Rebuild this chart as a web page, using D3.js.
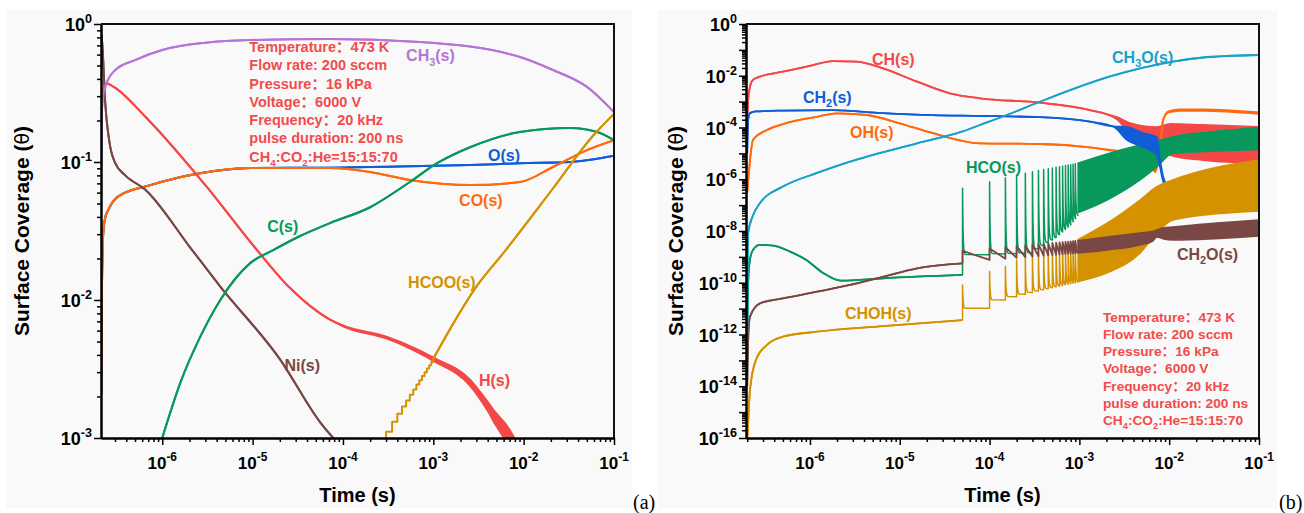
<!DOCTYPE html>
<html>
<head>
<meta charset="utf-8">
<script src="https://cdn.jsdelivr.net/npm/d3@7"></script>
<style>
  body { margin: 0; background: #fff; }
  svg { display: block; font-family: "Liberation Sans", Arial, sans-serif; }
</style>
</head>
<body>
<svg id="fig" width="1304" height="513"></svg>
<script>
// ---------- data (time in s, coverage) ----------
// pulses every 50 us that show up as single spikes / steps
const pulseTimes = [5e-5, 1e-4, 1.5e-4, 2e-4, 2.5e-4, 3e-4, 3.5e-4, 4e-4, 4.5e-4,
  5e-4, 5.5e-4, 6e-4, 6.5e-4, 7e-4, 7.5e-4, 8e-4, 8.5e-4, 9e-4];
const bandStart = 9.5e-4;

// panel (a)   rows are [t, value] or [t, low, high] where the trace is a band
const aNi = [[2e-7, 0.95], [2.15e-7, 0.77], [2.34e-7, 0.268], [2.66e-7, 0.128], [3.02e-7, 0.098],
  [3.9e-7, 0.080], [6.5e-7, 0.063], [2.04e-6, 0.024], [4.39e-6, 0.0125], [2.02e-5, 3.7e-3],
  [5.6e-5, 1.3e-3], [7.8e-5, 1e-3], [9e-5, 0.9e-3]];
const aH = [[2e-7, 0.2], [2.2e-7, 0.33], [2.44e-7, 0.37], [2.9e-7, 0.35], [6.5e-7, 0.213],
  [3e-6, 0.068], [1.12e-5, 0.023], [2.6e-5, 0.0122], [7.2e-5, 7.2e-3], [1.03e-4, 6.4e-3, 6.5e-3],
  [3.08e-4, 5.25e-3, 5.4e-3], [7.1e-4, 4.1e-3, 4.3e-3], [1.02e-3, 3.6e-3, 3.8e-3],
  [2.55e-3, 2.4e-3, 2.65e-3], [3.94e-3, 1.6e-3, 1.85e-3], [5e-3, 1.22e-3, 1.5e-3],
  [6.2e-3, 0.98e-3, 1.28e-3], [8.1e-3, 0.72e-3, 0.97e-3], [9e-3, 0.6e-3, 0.85e-3]];
const aCH3 = [[2e-7, 3e-3], [2.08e-7, 0.05], [2.13e-7, 0.2], [2.2e-7, 0.29], [2.34e-7, 0.351],
  [3.02e-7, 0.464], [5e-7, 0.548], [1e-6, 0.648], [3e-6, 0.732], [9.4e-6, 0.766], [7.2e-5, 0.778],
  [7.1e-4, 0.74], [9.1e-3, 0.577], [0.0211, 0.464], [0.0502, 0.35], [0.1, 0.23]];
const aCO = [[2e-7, 1.5e-3], [2.11e-7, 2.1e-3], [2.15e-7, 0.012], [2.22e-7, 0.03], [2.35e-7, 0.04],
  [2.53e-7, 0.045], [3.18e-7, 0.0557], [7.4e-7, 0.068], [2.63e-6, 0.083], [9.4e-6, 0.0905],
  [7.2e-5, 0.0905], [2e-4, 0.0847], [5.5e-4, 0.074], [2.55e-3, 0.068], [9.1e-3, 0.0716],
  [0.0211, 0.092], [0.0502, 0.122], [0.1, 0.144]];
const aO = [[2e-7, 1.5e-3], [2.11e-7, 2.1e-3], [2.15e-7, 0.012], [2.22e-7, 0.03], [2.35e-7, 0.04],
  [2.53e-7, 0.045], [3.18e-7, 0.0557], [7.4e-7, 0.068], [2.63e-6, 0.083], [9.4e-6, 0.0905],
  [7.2e-5, 0.091], [2e-4, 0.092], [5.5e-4, 0.093], [2.55e-3, 0.095], [9.1e-3, 0.098],
  [0.0326, 0.1], [0.1, 0.111]];
const aC = [[9e-7, 8e-4], [1e-6, 1e-3], [1.58e-6, 2.5e-3], [2.63e-6, 5.4e-3], [4.39e-6, 0.01],
  [9.4e-6, 0.0185], [1.69e-5, 0.023], [3.36e-5, 0.0291], [7.2e-5, 0.0361], [2e-4, 0.047],
  [5.5e-4, 0.0716], [1.1e-3, 0.098], [2.55e-3, 0.128], [9.1e-3, 0.165], [0.0326, 0.176],
  [0.065, 0.165], [0.1, 0.144]];
const aHCOOSteps = [[2.5e-4, 8e-4], [3e-4, 1.11e-3], [3.5e-4, 1.31e-3], [4e-4, 1.5e-3],
  [4.5e-4, 1.69e-3], [5e-4, 1.87e-3], [5.5e-4, 2.06e-3], [6e-4, 2.25e-3], [6.5e-4, 2.44e-3],
  [7e-4, 2.62e-3], [7.5e-4, 2.81e-3], [8e-4, 3.0e-3], [8.5e-4, 3.19e-3], [9e-4, 3.37e-3],
  [9.5e-4, 3.56e-3], [1e-3, 3.75e-3]];
const aHCOO = [[1e-3, 3.75e-3], [3e-3, 0.0125], [6e-3, 0.022], [0.021, 0.064], [0.0586, 0.155],
  [0.1, 0.223]];

// panel (b)
const bCH = [[2e-7, 1e-4], [2.05e-7, 1.2e-3], [2.15e-7, 3.8e-3], [2.32e-7, 6.9e-3], [2.77e-7, 9.2e-3],
  [5e-7, 0.0143], [1e-6, 0.024], [1.8e-6, 0.037], [3.33e-6, 0.035], [6.5e-6, 0.0194],
  [1.56e-5, 5.9e-3], [3.6e-5, 2.1e-3], [7.8e-5, 1.34e-3], [3.64e-4, 9.1e-4], [1.31e-3, 4.7e-4],
  [2.62e-3, 2.1e-4, 2.5e-4], [3.66e-3, 6.1e-5, 1.49e-4], [7.3e-3, 3.3e-5, 1.04e-4],
  [0.0102, 8.6e-6, 1.37e-4], [0.0238, 5.5e-6, 1.25e-4], [0.1, 4.2e-6, 1.04e-4]];
const bCH2 = [[2e-7, 1e-5], [2.05e-7, 2e-4], [2.15e-7, 3.6e-4], [2.5e-7, 4.2e-4], [5e-7, 4.5e-4],
  [1.8e-6, 4.7e-4], [6.5e-6, 3.6e-4], [2.34e-5, 3.0e-4], [7.8e-5, 2.8e-4], [3.64e-4, 2.5e-4],
  [1.31e-3, 1.68e-4], [2.4e-3, 1.08e-4, 1.1e-4], [3.4e-3, 3.3e-5, 1.04e-4], [5.1e-3, 1.76e-5, 6.1e-5],
  [7.3e-3, 8.6e-6, 4.3e-5], [7.9e-3, 3e-6, 6e-6], [8.6e-3, 8e-7, 1.2e-6], [9.8e-3, 4.2e-7, 5.5e-7],
  [0.0132, 4.6e-7], [0.1, 4.6e-7]];
const bOH = [[2e-7, 3e-7], [2.15e-7, 5.5e-6], [2.32e-7, 3.3e-5], [3.32e-7, 8e-5], [5e-7, 1.36e-4],
  [1.2e-6, 2.6e-4], [2e-6, 3.54e-4], [4.3e-6, 3.04e-4], [1e-5, 1.45e-4], [2.34e-5, 6e-5],
  [7.8e-5, 2.45e-5], [3.64e-4, 2.3e-5], [1.31e-3, 1.72e-5], [3.06e-3, 1.16e-5],
  [5.1e-3, 7.9e-6, 1.35e-5], [6.4e-3, 3.25e-6, 1.13e-5], [6.95e-3, 1.9e-6, 7e-6], [7.5e-3, 4e-6],
  [7.9e-3, 1.35e-5], [8.55e-3, 1.95e-4], [9.8e-3, 3.8e-4, 4.2e-4], [0.0132, 4.4e-4, 5.0e-4],
  [0.0238, 4.4e-4, 5.0e-4], [0.1, 3.35e-4, 3.85e-4]];
const bCH3O = [[2e-7, 1e-12], [2.02e-7, 3e-10], [2.05e-7, 8.4e-9], [2.32e-7, 4e-8], [2.77e-7, 1.18e-7],
  [5e-7, 5.2e-7], [1.2e-6, 1.75e-6], [2.79e-6, 4.8e-6], [1.56e-5, 2.45e-5], [4.9e-5, 6.9e-5],
  [7.8e-5, 1.25e-4], [1.56e-4, 3.04e-4], [3.64e-4, 9.9e-4], [2.3e-3, 9.8e-3], [0.011, 0.0349],
  [0.0238, 0.0507], [0.1, 0.0634]];
// HCO(s): smooth part, spike tops, level after each spike, dense band
const bHCO = [[2e-7, 1e-12], [2.05e-7, 1e-10], [2.15e-7, 8e-10], [2.32e-7, 1.85e-9], [2.77e-7, 2.9e-9],
  [3.9e-7, 2.7e-9], [6e-7, 1.6e-9], [9.1e-7, 7.6e-10], [1.4e-6, 2.4e-10], [2.2e-6, 1.2e-10],
  [6.5e-6, 1.49e-10], [5e-5, 2e-10]];
const bHCOPeak = [[5e-5, 4.5e-7], [1e-4, 8e-7], [2e-4, 1.46e-6], [3e-4, 1.96e-6], [9.5e-4, 4.1e-6]];
const bHCOBase = [[5e-5, 1.2e-9], [2.5e-4, 1.4e-9], [5e-4, 5.5e-9], [7.5e-4, 1.7e-8], [9.5e-4, 5e-8]];
const bHCOBand = [[9.5e-4, 5e-8, 4.1e-6], [2.03e-3, 1.58e-7, 9.5e-6], [4.73e-3, 9.4e-7, 2.1e-5],
  [7.3e-3, 3.05e-6, 3.0e-5], [0.011, 1.0e-5, 4.4e-5], [0.0284, 1.2e-5, 6.7e-5], [0.1, 1.4e-5, 1.0e-4]];
// CH2O(s): sawtooth between pulses
const bCH2O = [[2e-7, 1e-14], [2.07e-7, 1.5e-12], [2.15e-7, 4.9e-12], [2.77e-7, 1.6e-11], [5e-7, 2.5e-11],
  [1.2e-6, 4.5e-11], [2.79e-6, 8.2e-11], [6.5e-6, 1.7e-10], [1.56e-5, 3.6e-10], [5e-5, 5.6e-10]];
const bCH2OPeak = [[5e-5, 1.7e-9], [9.5e-4, 4.2e-9]];
const bCH2OLow = [[5e-5, 5.6e-10], [1e-4, 7.6e-10], [9.5e-4, 1.4e-9]];
const bCH2OBand = [[9.5e-4, 1.4e-9, 4.2e-9], [2.03e-3, 1.85e-9, 5.9e-9], [4.73e-3, 2.9e-9, 8.4e-9],
  [6.5e-3, 4e-9, 9.5e-9], [7.3e-3, 5.9e-9, 1.1e-8], [8.5e-3, 5e-9, 1.3e-8], [0.011, 4.5e-9, 1.43e-8],
  [0.1, 6.4e-9, 2.66e-8]];
// CHOH(s)
const bCHOH = [[2e-7, 5e-17], [2.15e-7, 7.2e-15], [2.5e-7, 1.03e-13], [3.3e-7, 3.9e-13], [5e-7, 8.2e-13],
  [1.2e-6, 1.28e-12], [6.5e-6, 2.1e-12], [5e-5, 3.6e-12]];
const bCHOHPeak = [[5e-5, 8.2e-11], [1e-4, 2.7e-10], [1.5e-4, 4.2e-10], [2e-4, 7.6e-10], [9.5e-4, 4.5e-9]];
const bCHOHBase = [[5e-5, 1.03e-11], [1e-4, 2.15e-11], [1.5e-4, 2.9e-11], [9.5e-4, 1.1e-10]];
const bCHOHBand = [[9.5e-4, 1.1e-10, 4.5e-9], [2.03e-3, 2.4e-10, 2.0e-8], [4.73e-3, 1.4e-9, 1.58e-7],
  [7.3e-3, 8.4e-9, 5.2e-7], [0.011, 2.66e-8, 9.4e-7], [0.1, 5.9e-8, 5.5e-6]];

const conditions = ['Temperature：473 K', 'Flow rate: 200 sccm', 'Pressure：16 kPa', 'Voltage：6000 V',
  'Frequency：20 kHz', 'pulse duration: 200 ns', 'CH_4:CO_2:He=15:15:70'];

const col = {
  red: '#f44848', orange: '#ff6a0d', blue: '#0f5ed8', green: '#08985b',
  purple: '#b476d6', brown: '#7a4844', gold: '#d49200', cyan: '#18a2c9', note: '#f24b4b'
};

// ---------- helpers ----------
const svg = d3.select('#fig');

function lerpLog(pts, t) {
  const lt = Math.log10(t);
  for (let i = 0; i < pts.length - 1; i++) {
    const la = Math.log10(pts[i][0]), lb = Math.log10(pts[i + 1][0]);
    if (lt <= lb || i === pts.length - 2) {
      const f = (lt - la) / (lb - la);
      return Math.pow(10, Math.log10(pts[i][1]) + f * (Math.log10(pts[i + 1][1]) - Math.log10(pts[i][1])));
    }
  }
  return pts[0][1];
}

// spikes: jump to peak at each pulse, fall fast to base, hold; saw: fall linearly to next low
function pulseTrace(start, peak, low, saw) {
  const out = [start];
  pulseTimes.forEach((t0, i) => {
    const t1 = i < pulseTimes.length - 1 ? pulseTimes[i + 1] : bandStart;
    const p = lerpLog(peak, t0);
    out.push([t0 * 1.0001, p]);
    if (saw) {
      out.push([t1, lerpLog(low, t1)]);
    } else {
      const b = lerpLog(low, t0);
      for (let j = 1; j <= 10; j++) {
        out.push([t0 * Math.pow(10, 0.003 * j), b * Math.pow(p / b, Math.exp(-j / 2))]);
      }
      out.push([t1, b]);
    }
  });
  return out;
}

function makePanel(id, box, bg, xDom, yDom) {
  svg.append('rect').attr('x', bg[0]).attr('y', bg[1]).attr('width', bg[2]).attr('height', bg[3])
    .attr('fill', '#f9f9f9');
  const x = d3.scaleLog().domain(xDom).range([box.l, box.r]);
  const y = d3.scaleLog().domain(yDom).range([box.b, box.t]);
  svg.append('clipPath').attr('id', id).append('rect')
    .attr('x', box.l).attr('y', box.t).attr('width', box.r - box.l).attr('height', box.b - box.t);
  const plot = svg.append('g').attr('clip-path', `url(#${id})`);
  return { x, y, plot, box };
}

function trace(p, data, color, w) {
  const rows = data.map(d => d.length === 2 ? [d[0], d[1], d[1]] : d);
  const area = d3.area().x(d => p.x(d[0])).y0(d => p.y(d[1])).y1(d => p.y(d[2]))
    .curve(d3.curveMonotoneX);
  p.plot.append('path').attr('d', area(rows)).attr('fill', color);
  [1, 2].forEach(k => {
    const line = d3.line().x(d => p.x(d[0])).y(d => p.y(d[k])).curve(d3.curveMonotoneX);
    p.plot.append('path').attr('d', line(rows)).attr('fill', 'none')
      .attr('stroke', color).attr('stroke-width', w).attr('stroke-linejoin', 'round');
  });
}

function rawLine(p, data, color, w, curve) {
  const line = d3.line().x(d => p.x(d[0])).y(d => p.y(d[1])).curve(curve || d3.curveLinear);
  p.plot.append('path').attr('d', line(data)).attr('fill', 'none')
    .attr('stroke', color).attr('stroke-width', w).attr('stroke-linejoin', 'round');
}

// "_4" -> subscript 4, full-width colon drawn with a CJK font
function chem(g, str, x, y, size, color, anchor) {
  const t = g.append('text').attr('x', x).attr('y', y).attr('font-size', size)
    .attr('font-weight', 'bold').attr('fill', color).attr('text-anchor', anchor || 'start');
  let down = false;
  str.split(/(_\d|：)/).forEach(part => {
    if (!part) return;
    if (part[0] === '_') {
      t.append('tspan').attr('font-size', size * 0.68).attr('dy', size * 0.3).text(part.slice(1));
      down = true;
      return;
    }
    const s = t.append('tspan').text(part);
    if (part === '：') s.attr('font-family', '"Noto Sans CJK SC", sans-serif');
    if (down) { s.attr('dy', -size * 0.3); down = false; }
  });
  return t;
}

function powLabel(x, y, v, anchor, size) {
  const t = svg.append('text').attr('x', x).attr('y', y).attr('text-anchor', anchor)
    .attr('font-size', size).attr('font-weight', 'bold').attr('fill', '#000');
  t.append('tspan').text('10');
  t.append('tspan').attr('dy', -size * 0.45).attr('font-size', size * 0.7)
    .text(String(Math.round(Math.log10(v))));
}

function axes(p, yLabelStep, yTitleX, xSize, ySize) {
  const { x, y, box } = p;
  const [x0, x1] = x.domain(), [y0, y1] = y.domain();
  const xMaj = [], xMin = [], yMaj = [], yMin = [];
  for (let e = Math.floor(Math.log10(x0)); e <= Math.ceil(Math.log10(x1)); e++) {
    for (let m = 1; m < 10; m++) {
      const v = m * Math.pow(10, e);
      if (v < x0 * 0.999 || v > x1 * 1.001) continue;
      (m === 1 ? xMaj : xMin).push(v);
    }
  }
  for (let e = Math.round(Math.log10(y0)); e <= Math.round(Math.log10(y1)); e++) {
    for (let m = 1; m < 10; m++) {
      const v = m * Math.pow(10, e);
      if (v > y1 * 1.001) continue;
      (m === 1 ? yMaj : yMin).push(v);
    }
  }
  const style = g => {
    g.select('.domain').attr('stroke', '#000').attr('stroke-width', 2);
    g.selectAll('.tick line').attr('stroke', '#000').attr('stroke-width', 1.5);
  };
  [[xMin, 4], [xMaj, 7]].forEach(([vals, len]) => {
    svg.append('g').attr('transform', `translate(0,${box.b})`)
      .call(d3.axisBottom(x).tickValues(vals).tickSize(len).tickSizeOuter(0).tickFormat(''))
      .call(style);
  });
  [[yMin, 4], [yMaj, 7]].forEach(([vals, len]) => {
    svg.append('g').attr('transform', `translate(${box.l},0)`)
      .call(d3.axisLeft(y).tickValues(vals).tickSize(len).tickSizeOuter(0).tickFormat(''))
      .call(style);
  });
  // top and right frame
  svg.append('path').attr('d', `M${box.l},${box.t}H${box.r}V${box.b}`)
    .attr('fill', 'none').attr('stroke', '#111').attr('stroke-width', 2);

  xMaj.forEach(v => powLabel(x(v), box.b + 31, v, 'middle', xSize));
  yMaj.forEach(v => {
    const e = Math.round(Math.log10(v));
    if (e % yLabelStep === 0) powLabel(box.l - 9, y(v) + 7, v, 'end', ySize);
  });

  svg.append('text').attr('x', (box.l + box.r) / 2).attr('y', box.b + 64)
    .attr('text-anchor', 'middle').attr('font-size', 20).attr('font-weight', 'bold').text('Time (s)');
  const yt = svg.append('text')
    .attr('transform', `translate(${yTitleX},${(box.t + box.b) / 2}) rotate(-90)`)
    .attr('text-anchor', 'middle').attr('font-size', 21).attr('font-weight', 'bold');
  yt.append('tspan').text('Surface Coverage (');
  yt.append('tspan').attr('font-family', '"DejaVu Sans", sans-serif').attr('font-weight', 'normal')
    .attr('font-size', 19).text('θ');
  yt.append('tspan').text(')');
}

function conditionsBlock(x, y, size, gap) {
  const g = svg.append('g');
  conditions.forEach((s, i) => chem(g, s, x, y + i * gap, size, col.note));
}

// ---------- panel (a) ----------
const A = makePanel('clipA', { l: 101, r: 614, t: 24, b: 438 }, [6, 10, 626, 498], [2.1e-7, 0.1], [1e-3, 1]);
trace(A, aO, col.blue, 2);
trace(A, aCO, col.orange, 2);
trace(A, aNi, col.brown, 2);
trace(A, aH, col.red, 2);
trace(A, aC, col.green, 2);
trace(A, aCH3, col.purple, 2);
rawLine(A, aHCOOSteps, col.gold, 2, d3.curveStepAfter);
trace(A, aHCOO, col.gold, 2);
axes(A, 1, 29, 17, 18);

const la = svg.append('g');
chem(la, 'CH_3(s)', A.x(5e-4), A.y(0.54), 16, col.purple);
chem(la, 'O(s)', A.x(4.04e-3), A.y(0.102), 16, col.blue);
chem(la, 'CO(s)', A.x(1.93e-3), A.y(0.048), 16, col.orange);
chem(la, 'C(s)', A.x(1.45e-5), A.y(0.0311), 16, col.green);
chem(la, 'HCOO(s)', A.x(5.26e-4), A.y(0.0122), 16, col.gold);
chem(la, 'H(s)', A.x(3.2e-3), A.y(2.38e-3), 16, col.red);
chem(la, 'Ni(s)', A.x(2.25e-5), A.y(3.06e-3), 16, col.brown);
conditionsBlock(A.x(9.2e-6), A.y(0.627), 14.5, 18.3);

// ---------- panel (b) ----------
const B = makePanel('clipB', { l: 746, r: 1259, t: 24, b: 438 }, [658, 10, 619, 498], [1.94e-7, 0.1], [1e-16, 1]);
trace(B, bCH, col.red, 1.8);
trace(B, bOH, col.orange, 1.8);
trace(B, bHCO, col.green, 1.8);
rawLine(B, pulseTrace(bHCO[bHCO.length - 1], bHCOPeak, bHCOBase, false), col.green, 1.5);
trace(B, bHCOBand, col.green, 1.5);
trace(B, bCH2, col.blue, 1.8);
trace(B, bCHOH, col.gold, 1.8);
rawLine(B, pulseTrace(bCHOH[bCHOH.length - 1], bCHOHPeak, bCHOHBase, false), col.gold, 1.5);
trace(B, bCHOHBand, col.gold, 1.5);
trace(B, bCH2O, col.brown, 1.8);
rawLine(B, pulseTrace(bCH2O[bCH2O.length - 1], bCH2OPeak, bCH2OLow, true), col.brown, 1.8);
trace(B, bCH2OBand, col.brown, 1.5);
trace(B, bCH3O, col.cyan, 1.8);
axes(B, 2, 683, 17, 18);

const lb = svg.append('g');
chem(lb, 'CH(s)', B.x(4.9e-6), B.y(0.0249), 16, col.red);
chem(lb, 'CH_2(s)', B.x(8.36e-7), B.y(9.25e-4), 16, col.blue);
chem(lb, 'OH(s)', B.x(2.79e-6), B.y(3.76e-5), 16, col.orange);
chem(lb, 'CH_3O(s)', B.x(2.31e-3), B.y(0.0325), 16, col.cyan);
chem(lb, 'HCO(s)', B.x(5.46e-5), B.y(1.82e-6), 16, col.green);
chem(lb, 'CH_2O(s)', B.x(0.0122), B.y(7.9e-10), 16, col.brown);
chem(lb, 'CHOH(s)', B.x(2.45e-6), B.y(3.8e-12), 16, col.gold);
conditionsBlock(B.x(1.83e-3), B.y(3.1e-12), 13.7, 17.2);

// panel tags
svg.append('text').attr('x', 633).attr('y', 509).attr('font-family', '"Liberation Serif", serif')
  .attr('font-size', 20).text('(a)');
svg.append('text').attr('x', 1279).attr('y', 509).attr('font-family', '"Liberation Serif", serif')
  .attr('font-size', 20).text('(b)');
</script>
</body>
</html>
